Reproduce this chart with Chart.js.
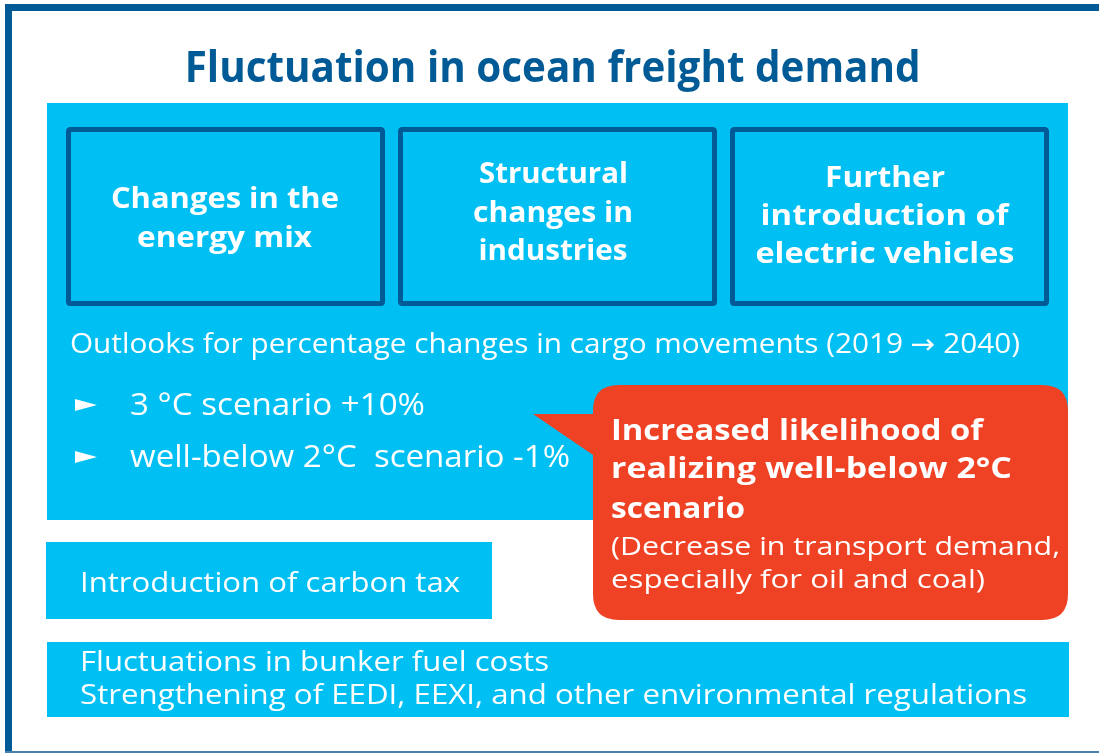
<!DOCTYPE html>
<html>
<head>
<meta charset="utf-8">
<script src="https://cdn.jsdelivr.net/npm/chart.js@4.4.1/dist/chart.umd.min.js"></script>
<style>
  html, body { margin: 0; padding: 0; background: #ffffff; }
  #wrap { position: relative; width: 1099px; height: 754px; overflow: hidden; }
  #diagram { position: absolute; left: 0; top: 0; }
  .t { position: absolute; white-space: pre; line-height: 1; color: #ffffff;
       font-family: "Open Sans", "DejaVu Sans", sans-serif; transform-origin: 0 0; }
  .c { transform-origin: 50% 0; }
</style>
</head>
<body>
<div id="wrap">
  <canvas id="diagram" width="1099" height="754"></canvas>
  <div id="texts"></div>
</div>
<script>
// --- data ---
const title = 'Fluctuation in ocean freight demand';
const drivers = [
  ['Changes in the', 'energy mix'],
  ['Structural', 'changes in', 'industries'],
  ['Further', 'introduction of', 'electric vehicles']
];
const outlookLabel = 'Outlooks for percentage changes in cargo movements (2019 \u2192 2040)';
const scenarios = ['3 \u00B0C scenario', 'well-below 2\u00B0C  scenario'];
const scenarioChange = ['+10%', '-1%'];
const calloutHead = ['Increased likelihood of', 'realizing well-below 2\u00B0C', 'scenario'];
const calloutNote = ['(Decrease in transport demand,', 'especially for oil and coal)'];
const carbonTax = 'Introduction of carbon tax';
const otherFactors = ['Fluctuations in bunker fuel costs', 'Strengthening of EEDI, EEXI, and other environmental regulations'];

// --- colours ---
const darkBlue = '#005a96';
const lightBlue = '#00bff3';
const red = '#ef4124';

// --- panel layout (page pixels) ---
const panels = [
  { x0: 47, y0: 103, x1: 1068, y1: 520, fill: lightBlue },
  { x0: 46, y0: 542, x1: 492, y1: 619, fill: lightBlue },
  { x0: 47, y0: 642, x1: 1069, y1: 717, fill: lightBlue }
];
const driverBoxes = [[66, 127, 385, 306], [398, 127, 717, 306], [730, 127, 1049, 306]];

function roundRect(ctx, x0, y0, x1, y1, r) {
  ctx.beginPath();
  ctx.moveTo(x0 + r, y0);
  ctx.lineTo(x1 - r, y0);
  ctx.quadraticCurveTo(x1, y0, x1, y0 + r);
  ctx.lineTo(x1, y1 - r);
  ctx.quadraticCurveTo(x1, y1, x1 - r, y1);
  ctx.lineTo(x0 + r, y1);
  ctx.quadraticCurveTo(x0, y1, x0, y1 - r);
  ctx.lineTo(x0, y0 + r);
  ctx.quadraticCurveTo(x0, y0, x0 + r, y0);
  ctx.closePath();
}

// plugin drawing the diagram panels through the chart's scales
const panelPlugin = {
  id: 'panels',
  beforeDatasetsDraw(chart) {
    const ctx = chart.ctx;
    const X = v => chart.scales.x.getPixelForValue(v);
    const Y = v => chart.scales.y.getPixelForValue(v);
    ctx.save();

    // outer frame
    ctx.fillStyle = darkBlue;
    ctx.fillRect(X(5), Y(4), X(1099) - X(5), Y(11) - Y(4));
    ctx.fillRect(X(5), Y(4), X(12) - X(5), Y(753) - Y(4));
    ctx.fillStyle = '#4a80ad';
    ctx.fillRect(X(5), Y(751), X(1099) - X(5), 2);

    panels.forEach(p => {
      ctx.fillStyle = p.fill;
      ctx.fillRect(X(p.x0), Y(p.y0), X(p.x1) - X(p.x0), Y(p.y1) - Y(p.y0));
    });

    ctx.strokeStyle = darkBlue;
    ctx.lineWidth = 5;
    driverBoxes.forEach(b => {
      roundRect(ctx, X(b[0]) + 2.5, Y(b[1]) + 2.5, X(b[2]) - 2.5, Y(b[3]) - 2.5, 2);
      ctx.stroke();
    });

    // callout
    ctx.fillStyle = red;
    roundRect(ctx, X(593), Y(385), X(1068), Y(620), 26);
    ctx.fill();
    ctx.beginPath();
    ctx.moveTo(X(533), Y(414));
    ctx.lineTo(X(600), Y(414));
    ctx.lineTo(X(600), Y(455));
    ctx.lineTo(X(593), Y(455));
    ctx.closePath();
    ctx.fill();

    // bullet arrows
    ctx.fillStyle = '#ffffff';
    [405, 457].forEach(y => {
      ctx.beginPath();
      ctx.moveTo(X(75), Y(y - 6));
      ctx.lineTo(X(97), Y(y));
      ctx.lineTo(X(75), Y(y + 6));
      ctx.closePath();
      ctx.fill();
    });
    ctx.restore();
  }
};

new Chart(document.getElementById('diagram'), {
  type: 'scatter',
  data: { datasets: [{ data: [] }] },
  options: {
    responsive: false,
    animation: false,
    layout: { padding: 0 },
    scales: {
      x: { type: 'linear', min: 0, max: 1099, display: false },
      y: { type: 'linear', min: 0, max: 754, reverse: true, display: false }
    },
    plugins: { legend: { display: false }, tooltip: { enabled: false } }
  },
  plugins: [panelPlugin]
});

// --- text overlay ---
const texts = document.getElementById('texts');
// x: left edge (or centre when centred), base: baseline y, w: target width
function line(str, x, base, w, size, weight, opts) {
  opts = opts || {};
  const el = document.createElement('div');
  el.className = 't' + (opts.center ? ' c' : '');
  el.textContent = str;
  el.style.fontSize = size + 'px';
  el.style.fontWeight = weight;
  if (opts.color) el.style.color = opts.color;
  if (opts.spacing) el.style.letterSpacing = opts.spacing + 'px';
  texts.appendChild(el);
  const natural = el.getBoundingClientRect().width;
  const s = w / natural;
  el.style.top = (base - 0.888 * size) + 'px';
  if (opts.center) {
    el.style.left = (x - natural / 2) + 'px';
  } else {
    el.style.left = x + 'px';
  }
  el.style.transform = 'scaleX(' + s.toFixed(4) + ')';
}

line(title, 553, 82, 736, 43, 700, { center: true, color: darkBlue });

const driverCentres = [225, 553, 885];
const driverBase = [[208, 247], [183, 222, 260], [187, 225, 263]];
const driverWidths = [[228, 175], [149, 160, 149], [120, 248, 259]];
drivers.forEach((lines, i) => {
  lines.forEach((s, j) => {
    line(s, driverCentres[i], driverBase[i][j], driverWidths[i][j], 29, 700, { center: true });
  });
});

line(outlookLabel, 70, 353, 950, 27, 400);
line(scenarios[0] + ' ' + scenarioChange[0], 130, 416, 295, 31, 400);
line(scenarios[1] + ' ' + scenarioChange[1], 130, 468, 440, 31, 400);

const headW = [372, 401, 134];
const headBase = [440, 478, 518];
calloutHead.forEach((s, j) => line(s, 611, headBase[j], headW[j], 29, 700));
const noteW = [449, 374];
const noteBase = [555, 588];
calloutNote.forEach((s, j) => line(s, 611, noteBase[j], noteW[j], 26, 400));

line(carbonTax, 80, 592, 380, 27, 400);
const otherW = [469, 947];
const otherBase = [671, 704];
otherFactors.forEach((s, j) => line(s, 80, otherBase[j], otherW[j], 27, 400));
</script>
</body>
</html>
